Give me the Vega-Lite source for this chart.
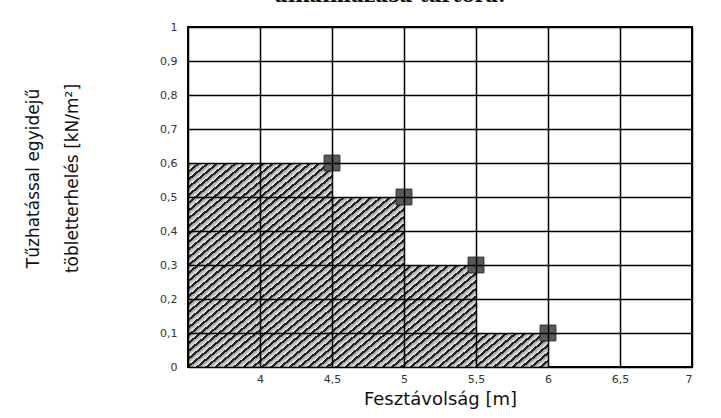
{
  "$schema": "https://vega.github.io/schema/vega-lite/v6.json",
  "width": 504,
  "height": 340,
  "autosize": {"type": "none"},
  "padding": {"left": 188, "top": 27, "right": 29, "bottom": 51},
  "background": "white",
  "config": {
    "view": {"stroke": "#000", "strokeWidth": 2},
    "font": "DejaVu Sans"
  },
  "title": {
    "text": "alkalmazása tartóra.",
    "font": "DejaVu Serif",
    "fontSize": 20,
    "fontWeight": "bold",
    "offset": 15,
    "anchor": "middle",
    "dx": -50,
    "color": "#111"
  },
  "data": {
    "values": [
      {"span": 3.5, "load": 0.6},
      {"span": 4.5, "load": 0.6},
      {"span": 5, "load": 0.5},
      {"span": 5.5, "load": 0.3},
      {"span": 6, "load": 0.1}
    ]
  },
  "encoding": {
    "x": {
      "field": "span",
      "type": "quantitative",
      "scale": {"domain": [3.5, 7], "nice": false, "zero": false},
      "axis": {
        "values": [3.5, 4, 4.5, 5, 5.5, 6, 6.5, 7],
        "labelExpr": "datum.value == 3.5 ? '' : replace(format(datum.value, '~g'), '.', ',')",
        "grid": true,
        "gridColor": "#000",
        "gridWidth": 1.5,
        "gridOpacity": 1,
        "ticks": false,
        "domain": false,
        "zindex": 1,
        "labelFontSize": 11,
        "labelColor": "#333",
        "labelPadding": 6,
        "title": "Fesztávolság [m]",
        "titleFontSize": 18,
        "titleFontWeight": "normal",
        "titleColor": "#111",
        "titlePadding": 6
      }
    },
    "y": {
      "field": "load",
      "type": "quantitative",
      "scale": {"domain": [0, 1], "nice": false},
      "axis": {
        "values": [0, 0.1, 0.2, 0.3, 0.4, 0.5, 0.6, 0.7, 0.8, 0.9, 1],
        "labelExpr": "replace(format(datum.value, '~g'), '.', ',')",
        "grid": true,
        "gridColor": "#000",
        "gridWidth": 1.5,
        "gridOpacity": 1,
        "ticks": false,
        "domain": false,
        "zindex": 1,
        "labelFontSize": 11,
        "labelColor": "#333",
        "labelPadding": 11,
        "title": ["Tűzhatással egyidejű", "töbletterhelés [kN/m²]"],
        "titleFontSize": 17,
        "titleFontWeight": "normal",
        "titleColor": "#111",
        "titleAngle": -90,
        "titleAlign": "center",
        "titleBaseline": "middle",
        "titleLineHeight": 39,
        "titleX": -155,
        "titleY": 151
      }
    }
  },
  "layer": [
    {
      "mark": {
        "type": "area",
        "interpolate": "step-before",
        "fillOpacity": 1,
        "fill": {
          "gradient": "linear",
          "x1": 0, "y1": 0, "x2": 1.151, "y2": 0.777,
          "stops": [
{"offset":0,"color":"#222"},{"offset":0.0054,"color":"#222"},{"offset":0.0054,"color":"#999"},{"offset":0.0154,"color":"#eee"},
{"offset":0.0154,"color":"#222"},{"offset":0.0208,"color":"#222"},{"offset":0.0208,"color":"#999"},{"offset":0.0308,"color":"#eee"},
{"offset":0.0308,"color":"#222"},{"offset":0.0361,"color":"#222"},{"offset":0.0361,"color":"#999"},{"offset":0.0462,"color":"#eee"},
{"offset":0.0462,"color":"#222"},{"offset":0.0515,"color":"#222"},{"offset":0.0515,"color":"#999"},{"offset":0.0615,"color":"#eee"},
{"offset":0.0615,"color":"#222"},{"offset":0.0669,"color":"#222"},{"offset":0.0669,"color":"#999"},{"offset":0.0769,"color":"#eee"},
{"offset":0.0769,"color":"#222"},{"offset":0.0823,"color":"#222"},{"offset":0.0823,"color":"#999"},{"offset":0.0923,"color":"#eee"},
{"offset":0.0923,"color":"#222"},{"offset":0.0977,"color":"#222"},{"offset":0.0977,"color":"#999"},{"offset":0.1077,"color":"#eee"},
{"offset":0.1077,"color":"#222"},{"offset":0.1131,"color":"#222"},{"offset":0.1131,"color":"#999"},{"offset":0.1231,"color":"#eee"},
{"offset":0.1231,"color":"#222"},{"offset":0.1285,"color":"#222"},{"offset":0.1285,"color":"#999"},{"offset":0.1385,"color":"#eee"},
{"offset":0.1385,"color":"#222"},{"offset":0.1438,"color":"#222"},{"offset":0.1438,"color":"#999"},{"offset":0.1538,"color":"#eee"},
{"offset":0.1538,"color":"#222"},{"offset":0.1592,"color":"#222"},{"offset":0.1592,"color":"#999"},{"offset":0.1692,"color":"#eee"},
{"offset":0.1692,"color":"#222"},{"offset":0.1746,"color":"#222"},{"offset":0.1746,"color":"#999"},{"offset":0.1846,"color":"#eee"},
{"offset":0.1846,"color":"#222"},{"offset":0.19,"color":"#222"},{"offset":0.19,"color":"#999"},{"offset":0.2,"color":"#eee"},
{"offset":0.2,"color":"#222"},{"offset":0.2054,"color":"#222"},{"offset":0.2054,"color":"#999"},{"offset":0.2154,"color":"#eee"},
{"offset":0.2154,"color":"#222"},{"offset":0.2208,"color":"#222"},{"offset":0.2208,"color":"#999"},{"offset":0.2308,"color":"#eee"},
{"offset":0.2308,"color":"#222"},{"offset":0.2362,"color":"#222"},{"offset":0.2362,"color":"#999"},{"offset":0.2462,"color":"#eee"},
{"offset":0.2462,"color":"#222"},{"offset":0.2515,"color":"#222"},{"offset":0.2515,"color":"#999"},{"offset":0.2615,"color":"#eee"},
{"offset":0.2615,"color":"#222"},{"offset":0.2669,"color":"#222"},{"offset":0.2669,"color":"#999"},{"offset":0.2769,"color":"#eee"},
{"offset":0.2769,"color":"#222"},{"offset":0.2823,"color":"#222"},{"offset":0.2823,"color":"#999"},{"offset":0.2923,"color":"#eee"},
{"offset":0.2923,"color":"#222"},{"offset":0.2977,"color":"#222"},{"offset":0.2977,"color":"#999"},{"offset":0.3077,"color":"#eee"},
{"offset":0.3077,"color":"#222"},{"offset":0.3131,"color":"#222"},{"offset":0.3131,"color":"#999"},{"offset":0.3231,"color":"#eee"},
{"offset":0.3231,"color":"#222"},{"offset":0.3285,"color":"#222"},{"offset":0.3285,"color":"#999"},{"offset":0.3385,"color":"#eee"},
{"offset":0.3385,"color":"#222"},{"offset":0.3438,"color":"#222"},{"offset":0.3438,"color":"#999"},{"offset":0.3538,"color":"#eee"},
{"offset":0.3538,"color":"#222"},{"offset":0.3592,"color":"#222"},{"offset":0.3592,"color":"#999"},{"offset":0.3692,"color":"#eee"},
{"offset":0.3692,"color":"#222"},{"offset":0.3746,"color":"#222"},{"offset":0.3746,"color":"#999"},{"offset":0.3846,"color":"#eee"},
{"offset":0.3846,"color":"#222"},{"offset":0.39,"color":"#222"},{"offset":0.39,"color":"#999"},{"offset":0.4,"color":"#eee"},
{"offset":0.4,"color":"#222"},{"offset":0.4054,"color":"#222"},{"offset":0.4054,"color":"#999"},{"offset":0.4154,"color":"#eee"},
{"offset":0.4154,"color":"#222"},{"offset":0.4208,"color":"#222"},{"offset":0.4208,"color":"#999"},{"offset":0.4308,"color":"#eee"},
{"offset":0.4308,"color":"#222"},{"offset":0.4362,"color":"#222"},{"offset":0.4362,"color":"#999"},{"offset":0.4462,"color":"#eee"},
{"offset":0.4462,"color":"#222"},{"offset":0.4515,"color":"#222"},{"offset":0.4515,"color":"#999"},{"offset":0.4615,"color":"#eee"},
{"offset":0.4615,"color":"#222"},{"offset":0.4669,"color":"#222"},{"offset":0.4669,"color":"#999"},{"offset":0.4769,"color":"#eee"},
{"offset":0.4769,"color":"#222"},{"offset":0.4823,"color":"#222"},{"offset":0.4823,"color":"#999"},{"offset":0.4923,"color":"#eee"},
{"offset":0.4923,"color":"#222"},{"offset":0.4977,"color":"#222"},{"offset":0.4977,"color":"#999"},{"offset":0.5077,"color":"#eee"},
{"offset":0.5077,"color":"#222"},{"offset":0.5131,"color":"#222"},{"offset":0.5131,"color":"#999"},{"offset":0.5231,"color":"#eee"},
{"offset":0.5231,"color":"#222"},{"offset":0.5285,"color":"#222"},{"offset":0.5285,"color":"#999"},{"offset":0.5385,"color":"#eee"},
{"offset":0.5385,"color":"#222"},{"offset":0.5438,"color":"#222"},{"offset":0.5438,"color":"#999"},{"offset":0.5538,"color":"#eee"},
{"offset":0.5538,"color":"#222"},{"offset":0.5592,"color":"#222"},{"offset":0.5592,"color":"#999"},{"offset":0.5692,"color":"#eee"},
{"offset":0.5692,"color":"#222"},{"offset":0.5746,"color":"#222"},{"offset":0.5746,"color":"#999"},{"offset":0.5846,"color":"#eee"},
{"offset":0.5846,"color":"#222"},{"offset":0.59,"color":"#222"},{"offset":0.59,"color":"#999"},{"offset":0.6,"color":"#eee"},
{"offset":0.6,"color":"#222"},{"offset":0.6054,"color":"#222"},{"offset":0.6054,"color":"#999"},{"offset":0.6154,"color":"#eee"},
{"offset":0.6154,"color":"#222"},{"offset":0.6208,"color":"#222"},{"offset":0.6208,"color":"#999"},{"offset":0.6308,"color":"#eee"},
{"offset":0.6308,"color":"#222"},{"offset":0.6362,"color":"#222"},{"offset":0.6362,"color":"#999"},{"offset":0.6462,"color":"#eee"},
{"offset":0.6462,"color":"#222"},{"offset":0.6515,"color":"#222"},{"offset":0.6515,"color":"#999"},{"offset":0.6615,"color":"#eee"},
{"offset":0.6615,"color":"#222"},{"offset":0.6669,"color":"#222"},{"offset":0.6669,"color":"#999"},{"offset":0.6769,"color":"#eee"},
{"offset":0.6769,"color":"#222"},{"offset":0.6823,"color":"#222"},{"offset":0.6823,"color":"#999"},{"offset":0.6923,"color":"#eee"},
{"offset":0.6923,"color":"#222"},{"offset":0.6977,"color":"#222"},{"offset":0.6977,"color":"#999"},{"offset":0.7077,"color":"#eee"},
{"offset":0.7077,"color":"#222"},{"offset":0.7131,"color":"#222"},{"offset":0.7131,"color":"#999"},{"offset":0.7231,"color":"#eee"},
{"offset":0.7231,"color":"#222"},{"offset":0.7285,"color":"#222"},{"offset":0.7285,"color":"#999"},{"offset":0.7385,"color":"#eee"},
{"offset":0.7385,"color":"#222"},{"offset":0.7438,"color":"#222"},{"offset":0.7438,"color":"#999"},{"offset":0.7538,"color":"#eee"},
{"offset":0.7538,"color":"#222"},{"offset":0.7592,"color":"#222"},{"offset":0.7592,"color":"#999"},{"offset":0.7692,"color":"#eee"},
{"offset":0.7692,"color":"#222"},{"offset":0.7746,"color":"#222"},{"offset":0.7746,"color":"#999"},{"offset":0.7846,"color":"#eee"},
{"offset":0.7846,"color":"#222"},{"offset":0.79,"color":"#222"},{"offset":0.79,"color":"#999"},{"offset":0.8,"color":"#eee"},
{"offset":0.8,"color":"#222"},{"offset":0.8054,"color":"#222"},{"offset":0.8054,"color":"#999"},{"offset":0.8154,"color":"#eee"},
{"offset":0.8154,"color":"#222"},{"offset":0.8208,"color":"#222"},{"offset":0.8208,"color":"#999"},{"offset":0.8308,"color":"#eee"},
{"offset":0.8308,"color":"#222"},{"offset":0.8362,"color":"#222"},{"offset":0.8362,"color":"#999"},{"offset":0.8462,"color":"#eee"},
{"offset":0.8462,"color":"#222"},{"offset":0.8515,"color":"#222"},{"offset":0.8515,"color":"#999"},{"offset":0.8615,"color":"#eee"},
{"offset":0.8615,"color":"#222"},{"offset":0.8669,"color":"#222"},{"offset":0.8669,"color":"#999"},{"offset":0.8769,"color":"#eee"},
{"offset":0.8769,"color":"#222"},{"offset":0.8823,"color":"#222"},{"offset":0.8823,"color":"#999"},{"offset":0.8923,"color":"#eee"},
{"offset":0.8923,"color":"#222"},{"offset":0.8977,"color":"#222"},{"offset":0.8977,"color":"#999"},{"offset":0.9077,"color":"#eee"},
{"offset":0.9077,"color":"#222"},{"offset":0.9131,"color":"#222"},{"offset":0.9131,"color":"#999"},{"offset":0.9231,"color":"#eee"},
{"offset":0.9231,"color":"#222"},{"offset":0.9285,"color":"#222"},{"offset":0.9285,"color":"#999"},{"offset":0.9385,"color":"#eee"},
{"offset":0.9385,"color":"#222"},{"offset":0.9438,"color":"#222"},{"offset":0.9438,"color":"#999"},{"offset":0.9538,"color":"#eee"},
{"offset":0.9538,"color":"#222"},{"offset":0.9592,"color":"#222"},{"offset":0.9592,"color":"#999"},{"offset":0.9692,"color":"#eee"},
{"offset":0.9692,"color":"#222"},{"offset":0.9746,"color":"#222"},{"offset":0.9746,"color":"#999"},{"offset":0.9846,"color":"#eee"},
{"offset":0.9846,"color":"#222"},{"offset":0.99,"color":"#222"},{"offset":0.99,"color":"#999"},{"offset":1,"color":"#eee"}
          ]
        }
      }
    },
    {
      "transform": [{"filter": "datum.span > 3.5"}],
      "mark": {
        "type": "square",
        "size": 250,
        "fill": "#5a5a5a",
        "stroke": "#2a2a2a",
        "strokeWidth": 1,
        "opacity": 1,
        "filled": true
      }
    }
  ]
}
